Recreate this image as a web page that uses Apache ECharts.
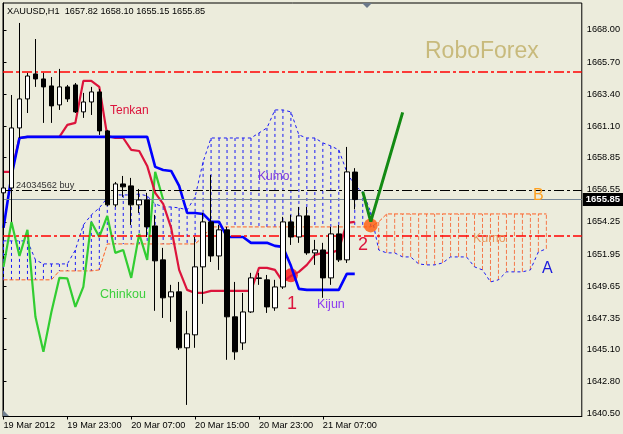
<!DOCTYPE html>
<html><head><meta charset="utf-8">
<script src="https://cdn.jsdelivr.net/npm/echarts@6/dist/echarts.min.js"></script>
<style>html,body{margin:0;padding:0;background:#ececdc;}#c{width:623px;height:434px;}</style>
</head><body><div id="c"></div>
<script>
// ---- axis ticks ----
const xTickIdx = [0, 8, 16, 24, 32, 40];
const xTickLabels = ['19 Mar 2012', '19 Mar 23:00', '20 Mar 07:00', '20 Mar 15:00', '20 Mar 23:00', '21 Mar 07:00'];
const yTickVals = [1640.50, 1642.80, 1645.10, 1647.35, 1649.65, 1651.95, 1654.25, 1656.55, 1658.85, 1661.10, 1663.40, 1665.70, 1668.00];
const yTickLabels = ['1640.50', '1642.80', '1645.10', '1647.35', '1649.65', '1651.95', '1654.25', '1656.55', '1658.85', '1661.10', '1663.40', '1665.70', '1668.00'];

// ---- candles (H1 bars, index 0 = 19 Mar 15:00) ----
const candleOpen = [1656.33, 1656.68, 1660.98, 1663.06, 1664.85, 1664.49, 1663.99, 1662.63, 1663.92, 1664.06, 1662.13, 1662.84, 1663.56, 1660.77, 1655.47, 1656.97, 1656.83, 1655.47, 1655.82, 1653.96, 1651.53, 1648.88, 1649.24, 1645.23, 1646.16, 1651.03, 1654.25, 1651.81, 1653.68, 1647.45, 1645.58, 1647.80, 1650.24, 1650.10, 1648.09, 1649.59, 1654.25, 1653.17, 1654.68, 1652.03, 1652.24, 1650.24, 1653.39, 1651.53, 1657.82];
const candleClose = [1656.68, 1660.98, 1663.06, 1664.70, 1664.49, 1663.92, 1662.56, 1663.92, 1663.06, 1662.13, 1662.84, 1663.56, 1660.77, 1655.47, 1656.97, 1656.76, 1655.47, 1655.82, 1653.89, 1651.46, 1648.81, 1649.24, 1645.23, 1646.23, 1651.03, 1654.25, 1651.81, 1653.68, 1647.45, 1644.94, 1647.80, 1650.24, 1650.20, 1648.16, 1649.59, 1654.25, 1653.17, 1654.68, 1652.03, 1652.24, 1650.24, 1653.39, 1651.53, 1657.83, 1655.85];
const candleLow = [1653.50, 1654.25, 1660.26, 1662.05, 1663.92, 1661.34, 1661.34, 1662.27, 1662.84, 1662.05, 1661.70, 1661.91, 1660.48, 1655.39, 1655.32, 1656.04, 1654.03, 1654.89, 1653.17, 1647.88, 1647.37, 1647.09, 1645.08, 1641.14, 1645.23, 1648.38, 1651.38, 1650.81, 1644.37, 1644.37, 1645.08, 1647.73, 1649.74, 1647.73, 1647.88, 1649.45, 1652.60, 1652.75, 1651.89, 1651.17, 1648.81, 1649.74, 1651.38, 1651.31, 1655.15];
const candleHigh = [1658.69, 1663.34, 1668.50, 1664.92, 1667.35, 1664.92, 1664.63, 1665.21, 1664.06, 1664.20, 1663.49, 1663.92, 1663.77, 1660.84, 1657.11, 1657.54, 1657.40, 1656.61, 1656.33, 1654.75, 1652.39, 1649.74, 1649.95, 1647.88, 1653.17, 1654.89, 1657.61, 1654.03, 1653.89, 1649.95, 1649.16, 1650.60, 1650.60, 1650.45, 1650.10, 1654.61, 1654.75, 1655.32, 1655.32, 1652.96, 1652.75, 1653.89, 1654.03, 1659.62, 1658.10];

// ---- Ichimoku ----
const tenkan = [1657.83, 1657.83, 1660.26, 1660.34, 1660.34, 1660.34, 1660.34, 1660.34, 1661.20, 1661.34, 1664.35, 1664.35, 1663.92, 1660.41, 1660.26, 1660.26, 1659.41, 1659.33, 1658.26, 1656.33, 1655.54, 1653.82, 1650.81, 1649.38, 1649.16, 1649.16, 1649.31, 1649.31, 1649.31, 1649.31, 1649.31, 1649.31, 1650.96, 1650.96, 1650.81, 1649.95, 1650.38, 1650.67, 1651.17, 1651.89, 1652.03, 1652.03, 1652.24, 1654.18, 1654.25];
const kijun = [1653.82, 1657.54, 1660.26, 1660.34, 1660.34, 1660.34, 1660.34, 1660.34, 1660.34, 1660.34, 1660.34, 1660.34, 1660.34, 1660.34, 1660.34, 1660.34, 1660.34, 1660.34, 1660.34, 1658.19, 1657.97, 1657.90, 1656.83, 1654.89, 1654.89, 1654.82, 1654.25, 1654.25, 1653.17, 1653.17, 1653.17, 1652.75, 1652.75, 1652.75, 1652.53, 1652.46, 1651.10, 1649.45, 1649.38, 1649.38, 1649.38, 1649.38, 1649.38, 1650.53, 1650.53];
const chinkou = [1651.03, 1654.25, 1651.81, 1653.68, 1647.45, 1644.94, 1647.80, 1650.24, 1650.20, 1648.16, 1649.59, 1654.25, 1653.17, 1654.68, 1652.03, 1652.24, 1650.24, 1653.39, 1651.53, 1657.83, 1655.85];
const spanA = [1652.89, 1652.89, 1652.89, 1652.89, 1651.53, 1651.24, 1651.24, 1651.24, 1651.24, 1652.24, 1654.03, 1654.75, 1655.25, 1655.97, 1656.18, 1656.18, 1656.18, 1656.25, 1656.11, 1655.54, 1655.32, 1655.32, 1655.25, 1655.11, 1656.04, 1658.55, 1660.26, 1660.26, 1660.26, 1660.26, 1660.26, 1660.26, 1660.62, 1660.98, 1662.27, 1662.27, 1662.13, 1660.48, 1660.26, 1660.26, 1659.91, 1659.69, 1659.41, 1657.83, 1656.83, 1656.40, 1654.97, 1652.24, 1652.03, 1652.03, 1651.74, 1651.74, 1651.24, 1651.17, 1651.17, 1651.31, 1651.74, 1651.74, 1651.74, 1651.03, 1650.81, 1649.95, 1650.10, 1650.67, 1650.67, 1650.67, 1650.81, 1652.10, 1652.32];
const spanB = [1650.10, 1650.10, 1650.10, 1650.10, 1650.10, 1650.10, 1650.10, 1650.74, 1650.74, 1650.74, 1650.74, 1650.74, 1650.81, 1652.67, 1652.67, 1652.67, 1652.67, 1652.67, 1652.67, 1652.67, 1652.67, 1652.67, 1652.67, 1652.67, 1652.67, 1653.17, 1653.89, 1653.89, 1653.89, 1653.89, 1653.89, 1653.89, 1653.89, 1653.89, 1653.89, 1653.89, 1653.89, 1653.89, 1653.89, 1653.89, 1653.89, 1653.89, 1653.89, 1653.89, 1653.89, 1653.89, 1653.89, 1654.25, 1654.82, 1654.82, 1654.82, 1654.82, 1654.82, 1654.82, 1654.82, 1654.82, 1654.82, 1654.82, 1654.82, 1654.82, 1654.82, 1654.82, 1654.82, 1654.82, 1654.82, 1654.82, 1654.82, 1654.82, 1654.82];

// ---- levels and annotations (prices) ----
const levelRedUpper = 1665.01;
const levelRedLower = 1653.23;
const levelOrder = 1656.54;
const lastPrice = 1655.85;
const arrowIdx = [45, 46, 50];
const arrowPrice = [1656.42, 1654.27, 1662.10];
const circleRed = [36, 1650.42];
const circleOrange = [46, 1654.00];

const BG = '#ececdc';
const FONT = '"Liberation Sans", Arial, sans-serif';
const blueCloud = '#1a1af5';
const orangeCloud = '#ff5f22';

const chart = echarts.init(document.getElementById('c'), null, {renderer: 'canvas'});
const idx = arr => arr.map((v, i) => [i, v]);
const nearest = (arr, v) => { let b = 0; arr.forEach((a, i) => { if (Math.abs(a - v) < Math.abs(arr[b] - v)) b = i; }); return b; };
const txt = (x, y, text, size, fill) => ({type: 'text', x: x, y: y, z: 100, zlevel: 0,
  style: {text: text, font: size + 'px ' + FONT, fill: fill, verticalAlign: 'middle'}});

const option = {
  backgroundColor: BG,
  animation: false,
  grid: {left: 3, top: 3, width: 580, height: 413.5, show: true, backgroundColor: BG, borderColor: '#000', borderWidth: 1},
  xAxis: {
    type: 'value', min: -0.0625, max: 72.4375,
    axisLine: {show: true, onZero: false, lineStyle: {color: '#000'}},
    axisTick: {show: true, customValues: xTickIdx, length: 3, lineStyle: {color: '#000'}},
    axisLabel: {show: true, customValues: xTickIdx, formatter: v => xTickLabels[nearest(xTickIdx, v)], align: 'left', margin: 4, color: '#000', fontSize: 9.2, fontFamily: FONT},
    splitLine: {show: false}
  },
  yAxis: {
    type: 'value', position: 'right', min: 1640.31, max: 1669.93,
    axisLine: {show: true, lineStyle: {color: '#000'}},
    axisTick: {show: true, customValues: yTickVals, length: 3, lineStyle: {color: '#000'}},
    axisLabel: {show: true, customValues: yTickVals, formatter: v => yTickLabels[nearest(yTickVals, v)], margin: 5, color: '#000', fontSize: 9.2, fontFamily: FONT},
    splitLine: {show: false}
  },
  series: [
    {
      name: 'kumoHist', type: 'custom', z: 1,
      data: spanA.map((a, i) => [i, a, spanB[i]]),
      encode: {x: 0, y: [1, 2]},
      renderItem: function (params, api) {
        const i = api.value(0), a = api.value(1), b = api.value(2);
        const p1 = api.coord([i, a]), p2 = api.coord([i, b]);
        return {type: 'line', shape: {x1: p1[0], y1: p1[1], x2: p2[0], y2: p2[1]},
          style: {stroke: a >= b ? blueCloud : '#f5784a', lineWidth: 1, lineDash: a >= b ? [3, 3] : [4, 2]}};
      }
    },
    {name: 'spanA', type: 'line', z: 2, data: idx(spanA), symbol: 'none', lineStyle: {color: blueCloud, width: 1, type: [3, 3]}},
    {name: 'spanB', type: 'line', z: 2, data: idx(spanB), symbol: 'none', lineStyle: {color: orangeCloud, width: 1, type: [4, 2]}},
    {name: 'circles', type: 'scatter', z: 3, symbolSize: 14,
      data: [{value: circleRed, itemStyle: {color: '#ff1010'}}, {value: circleOrange, itemStyle: {color: '#ff5a0a'}}]},
    {name: 'Chinkou', type: 'line', z: 4, data: idx(chinkou), symbol: 'none', lineStyle: {color: '#32cd32', width: 2.2}},
    {name: 'Tenkan', type: 'line', z: 4, data: idx(tenkan), symbol: 'none', lineStyle: {color: '#dc143c', width: 2.2},
      markLine: {
        symbol: 'none', silent: true, animation: false,
        data: [
          {yAxis: levelRedUpper, lineStyle: {color: '#ff0000', width: 1.6, type: [10, 3, 3, 3]}, label: {show: false}},
          {yAxis: levelRedLower, lineStyle: {color: '#ff0000', width: 1.6, type: [10, 3, 3, 3]}, label: {show: false}},
          {yAxis: levelOrder, lineStyle: {color: '#000', width: 1.2, type: [10, 3, 3, 3]}, label: {show: false}},
          {yAxis: lastPrice, lineStyle: {color: '#778899', width: 1, type: 'solid'},
            label: {show: true, position: 'end', distance: 1, formatter: lastPrice.toFixed(2), backgroundColor: '#000', color: '#fff',
              padding: [2, 4, 1, 3], fontSize: 9.5, fontWeight: 'bold', fontFamily: FONT}}
        ]
      }},
    {name: 'Kijun', type: 'line', z: 4, data: idx(kijun), symbol: 'none', lineStyle: {color: '#0000ff', width: 2.6}},
    {name: 'candles', type: 'candlestick', z: 5, barWidth: 5,
      data: candleOpen.map((o, i) => [i, o, candleClose[i], candleLow[i], candleHigh[i]]),
      encode: {x: 0, y: [1, 2, 3, 4]},
      itemStyle: {color: '#ffffff', color0: '#000000', borderColor: '#000000', borderColor0: '#000000', borderWidth: 1}},
    {name: 'arrow', type: 'line', z: 6, data: arrowIdx.map((x, i) => [x, arrowPrice[i]]), symbol: 'none', lineStyle: {color: '#138a13', width: 3}}
  ],
  graphic: [
    txt(7, 11, 'XAUUSD,H1  1657.82 1658.10 1655.15 1655.85', 9.2, '#000'),
    txt(425, 52, 'RoboForex', 23, '#c8ba7c'),
    txt(110, 111, 'Tenkan', 12, '#dc143c'),
    txt(258, 177, 'Kumo', 12, '#7b39e0'),
    txt(473, 239, 'Kumo', 12.5, '#e8955a'),
    txt(100, 295, 'Chinkou', 12.5, '#3ccf3c'),
    txt(317, 305, 'Kijun', 12.5, '#8b3cf0'),
    txt(287, 304, '1', 18, '#dc143c'),
    txt(358, 245, '2', 18, '#dc143c'),
    txt(533, 196, 'B', 16, '#ffa020'),
    txt(542, 269, 'A', 16, '#1a1adc'),
    txt(16, 185, '24034562 buy', 9.2, '#333'),
    {type: 'polygon', z: 100, shape: {points: [[362, 3], [372, 3], [367, 8]]}, style: {fill: '#6b7889'}},
    {type: 'polygon', z: 100, shape: {points: [[3, 410], [3, 416], [9, 416]]}, style: {fill: '#708090'}}
  ]
};
chart.setOption(option);
</script></body></html>
